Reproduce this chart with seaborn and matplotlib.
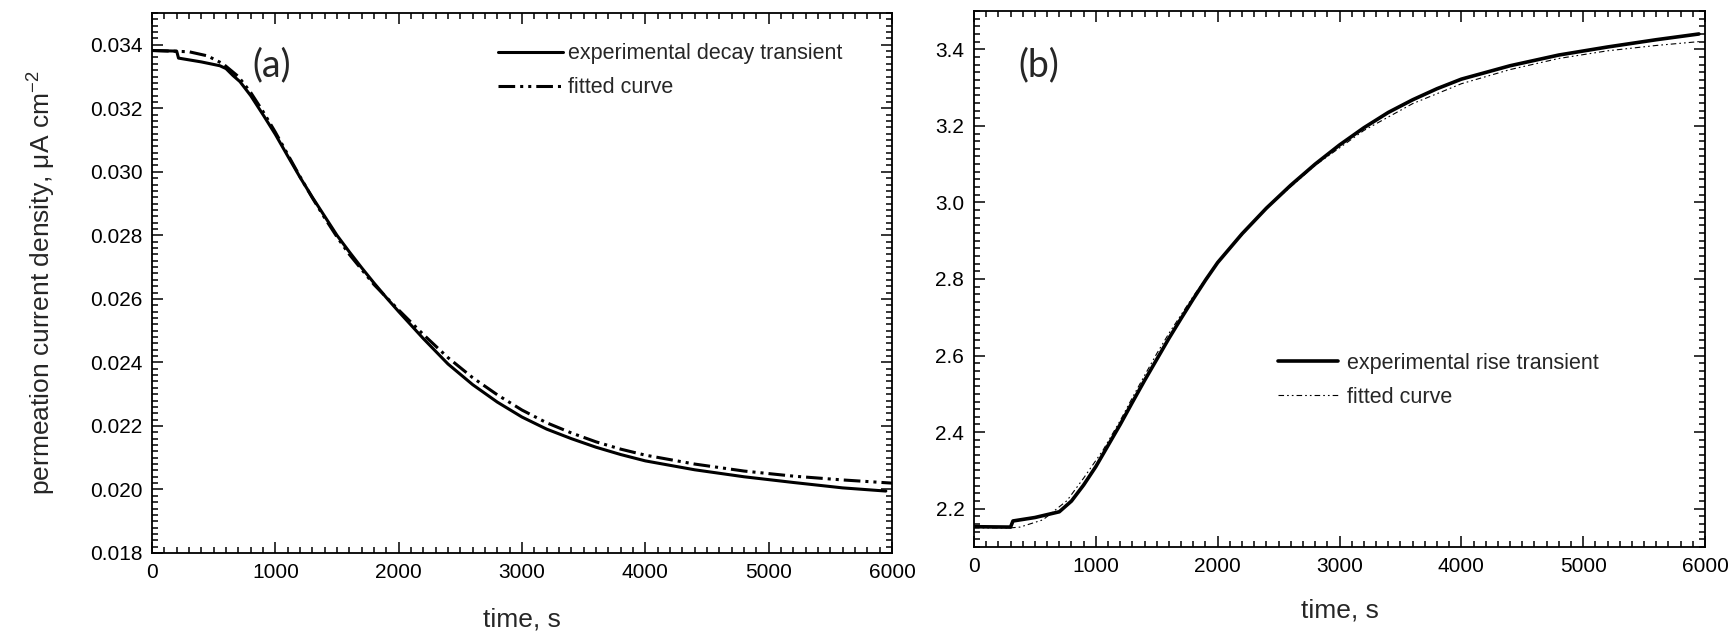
import numpy as np
import pandas as pd
import seaborn as sns
import matplotlib
matplotlib.use("Agg")
import matplotlib.pyplot as plt
from matplotlib.ticker import MultipleLocator, FormatStrFormatter

# (a) decay transient
t_decay = [0, 200, 215, 400, 550, 600, 657, 713, 800, 900, 1000, 1100, 1200,
           1300, 1400, 1500, 1600, 1700, 1800, 1900, 2000, 2200, 2400, 2600,
           2800, 3000, 3200, 3400, 3600, 3800, 4000, 4400, 4800, 5200, 5600, 5950]
j_decay_exp = [0.03382, 0.03380, 0.03358, 0.03346, 0.03334, 0.03325, 0.03303,
               0.03284, 0.03240, 0.03180, 0.03118, 0.03050, 0.02983, 0.02920,
               0.02860, 0.02800, 0.02748, 0.02698, 0.02650, 0.02604, 0.02560,
               0.02475, 0.02395, 0.02330, 0.02275, 0.02228, 0.02190, 0.02160,
               0.02133, 0.02110, 0.02090, 0.02062, 0.02040, 0.02022, 0.02005,
               0.01995]
t_decay_fit = [0, 300, 450, 576, 700, 800, 900, 1000, 1100, 1200, 1300, 1400,
               1500, 1600, 1800, 2000, 2200, 2400, 2600, 2800, 3000, 3200, 3400,
               3600, 3800, 4000, 4400, 4800, 5200, 5600, 6000]
j_decay_fit = [0.03382, 0.03378, 0.03365, 0.03340, 0.03300, 0.03250, 0.03190,
               0.03125, 0.03055, 0.02985, 0.02918, 0.02855, 0.02795, 0.02740,
               0.02645, 0.02565, 0.02488, 0.02415, 0.02352, 0.02298, 0.02250,
               0.02210, 0.02178, 0.02150, 0.02127, 0.02108, 0.02080, 0.02058,
               0.02042, 0.02030, 0.02020]

# (b) rise transient
t_rise = [0, 300, 320, 500, 700, 800, 900, 1000, 1100, 1200, 1300, 1400, 1500,
          1600, 1700, 1800, 1900, 2000, 2200, 2400, 2600, 2800, 3000, 3200,
          3400, 3600, 3800, 4000, 4400, 4800, 5200, 5600, 5950]
j_rise_exp = [2.153, 2.152, 2.168, 2.177, 2.192, 2.220, 2.262, 2.310, 2.365,
              2.420, 2.478, 2.535, 2.590, 2.645, 2.697, 2.748, 2.797, 2.843,
              2.918, 2.985, 3.045, 3.100, 3.150, 3.195, 3.235, 3.268, 3.297,
              3.322, 3.357, 3.385, 3.406, 3.425, 3.440]
t_rise_fit = [0, 300, 378, 566, 763, 900, 1059, 1200, 1300, 1400, 1500, 1600,
              1800, 2000, 2400, 2800, 3200, 3600, 4000, 4400, 4800, 5200,
              5600, 5950]
j_rise_fit = [2.150, 2.150, 2.152, 2.171, 2.221, 2.280, 2.353, 2.430, 2.490,
              2.548, 2.605, 2.658, 2.755, 2.845, 2.985, 3.097, 3.188, 3.258,
              3.310, 3.347, 3.376, 3.396, 3.410, 3.420]

sns.set_theme(style="ticks")
plt.rcParams["font.family"] = ["Liberation Sans", "DejaVu Sans"]
plt.rcParams["mathtext.fontset"] = "custom"
plt.rcParams["mathtext.rm"] = "Liberation Sans"
plt.rcParams["mathtext.it"] = "Liberation Sans"
plt.rcParams["lines.scale_dashes"] = False

fig = plt.figure(figsize=(17.32, 6.32), dpi=100)
ax_a = fig.add_axes([152 / 1732, 79 / 632, 740 / 1732, 540 / 632])
ax_b = fig.add_axes([974 / 1732, 85 / 632, 731 / 1732, 536 / 632])

df_a = pd.DataFrame({"t": t_decay, "j": j_decay_exp})
df_a_fit = pd.DataFrame({"t": t_decay_fit, "j": j_decay_fit})
df_b = pd.DataFrame({"t": t_rise, "j": j_rise_exp})
df_b_fit = pd.DataFrame({"t": t_rise_fit, "j": j_rise_fit})

sns.lineplot(data=df_a, x="t", y="j", ax=ax_a, color="black", lw=2.2,
             estimator=None, sort=False, label="experimental decay transient")
sns.lineplot(data=df_a_fit, x="t", y="j", ax=ax_a, color="black", lw=2.2,
             estimator=None, sort=False, label="fitted curve",
             linestyle=(0, (12, 3.6, 2.2, 3.6, 2.2, 3.6)))
sns.lineplot(data=df_b, x="t", y="j", ax=ax_b, color="black", lw=2.6,
             estimator=None, sort=False, label="experimental rise transient")
sns.lineplot(data=df_b_fit, x="t", y="j", ax=ax_b, color="black", lw=0.8,
             estimator=None, sort=False, label="fitted curve",
             linestyle=(0, (4, 2.2, 1.2, 2.2, 1.2, 2.2)))

ax_a.set_xlim(0, 6000)
ax_a.set_ylim(0.018, 0.035)
ax_b.set_xlim(0, 6000)
ax_b.set_ylim(2.1, 3.5)

for ax in (ax_a, ax_b):
    ax.xaxis.set_major_locator(MultipleLocator(1000))
    ax.xaxis.set_minor_locator(MultipleLocator(100))
    ax.tick_params(which="both", direction="in", top=True, right=True,
                   width=1.1, colors="black", labelsize=15)
    ax.tick_params(which="major", length=8, pad=7)
    ax.tick_params(which="minor", length=4)
    for sp in ax.spines.values():
        sp.set_linewidth(1.3)
        sp.set_color("black")
        sp.set_visible(True)
    ax.set_xlabel("time, s", fontsize=19)

ax_a.yaxis.set_major_locator(MultipleLocator(0.002))
ax_a.yaxis.set_minor_locator(MultipleLocator(0.0002))
ax_a.yaxis.set_major_formatter(FormatStrFormatter("%.3f"))
ax_b.yaxis.set_major_locator(MultipleLocator(0.2))
ax_b.yaxis.set_minor_locator(MultipleLocator(0.02))
ax_b.yaxis.set_major_formatter(FormatStrFormatter("%.1f"))

ax_a.set_ylabel("permeation current density, μA cm$^{-2}$", fontsize=19)
ax_a.yaxis.set_label_coords(-0.127, 0.5)
ax_b.set_ylabel("")
ax_a.xaxis.set_label_coords(0.5, -0.1)
ax_a.xaxis.label.set_va("top")
ax_b.xaxis.set_label_coords(0.5, -0.097)
ax_b.xaxis.label.set_va("top")

ax_a.text(0.162, 0.904, "(a)", transform=ax_a.transAxes, fontsize=27,
          family=["Lato", "DejaVu Sans"], ha="center", va="center")
ax_b.text(0.089, 0.899, "(b)", transform=ax_b.transAxes, fontsize=27,
          family=["Lato", "DejaVu Sans"], ha="center", va="center")

ax_a.legend(loc="upper left", bbox_to_anchor=(0.4676, 0.944), frameon=False,
            fontsize=15.5, handlelength=3.0, handletextpad=0.25,
            borderpad=0, borderaxespad=0, labelspacing=0.6)
ax_b.legend(loc="upper left", bbox_to_anchor=(0.416, 0.362), frameon=False,
            fontsize=15.5, handlelength=2.8, handletextpad=0.4,
            borderpad=0, borderaxespad=0, labelspacing=0.6)

fig.savefig("out.png", dpi=100)
